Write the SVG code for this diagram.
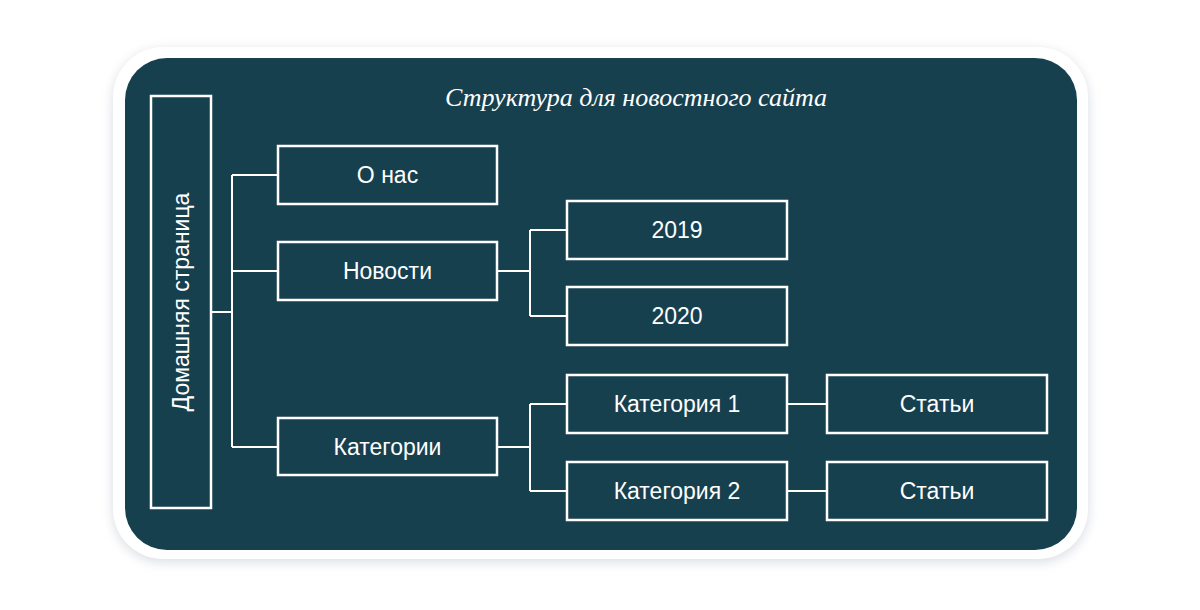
<svg xmlns="http://www.w3.org/2000/svg" width="1200" height="610" viewBox="0 0 1200 610">
<defs>
<filter id="sh" x="-10%" y="-10%" width="120%" height="120%"><feGaussianBlur stdDeviation="6"/></filter>
<style>
.n{fill:none;stroke:#fff;stroke-width:2.5}
.t{fill:#fff;font-family:"Liberation Sans",Arial,sans-serif;font-size:23px;text-anchor:middle;dominant-baseline:central}
.c{fill:none;stroke:#fff;stroke-width:2}
</style>
</defs>
<rect width="1200" height="610" fill="#fff"/>
<rect x="113" y="50" width="975" height="512" rx="50" fill="#d8dce2" filter="url(#sh)"/>
<rect x="113" y="47" width="975" height="512" rx="50" fill="#fff"/>
<rect x="125" y="58" width="952" height="492" rx="42" fill="#17404f"/>
<text x="636" y="97" fill="#fff" font-family="Liberation Serif,serif" font-style="italic" font-size="26" text-anchor="middle" dominant-baseline="central">Структура для новостного сайта</text>
<g id="connectors">
<path class="c" d="M211 312H232M232 175V447M232 175H278M232 271H278M232 447H278"/>
<path class="c" d="M497 271H530M530 230V316M530 230H567M530 316H567"/>
<path class="c" d="M497 447H530M530 404V491M530 404H567M530 491H567"/>
<path class="c" d="M787 404H827M787 491H827"/>
</g>
<g id="home"><rect class="n" x="151" y="96" width="60" height="412"/><text class="t" transform="translate(181 302) rotate(-90)">Домашняя страница</text></g>
<g id="about"><rect class="n" x="278" y="146" width="219" height="58"/><text class="t" x="387.5" y="175">О нас</text></g>
<g id="news"><rect class="n" x="278" y="242" width="219" height="58"/><text class="t" x="387.5" y="271">Новости</text></g>
<g id="cats"><rect class="n" x="278" y="418" width="219" height="57"/><text class="t" x="387.5" y="447">Категории</text></g>
<g id="y2019"><rect class="n" x="567" y="201" width="220" height="58"/><text class="t" x="677" y="230">2019</text></g>
<g id="y2020"><rect class="n" x="567" y="287" width="220" height="58"/><text class="t" x="677" y="316">2020</text></g>
<g id="cat1"><rect class="n" x="567" y="375" width="220" height="58"/><text class="t" x="677" y="404">Категория 1</text></g>
<g id="cat2"><rect class="n" x="567" y="462" width="220" height="58"/><text class="t" x="677" y="491">Категория 2</text></g>
<g id="art1"><rect class="n" x="827" y="375" width="220" height="58"/><text class="t" x="937" y="404">Статьи</text></g>
<g id="art2"><rect class="n" x="827" y="462" width="220" height="58"/><text class="t" x="937" y="491">Статьи</text></g>
</svg>
